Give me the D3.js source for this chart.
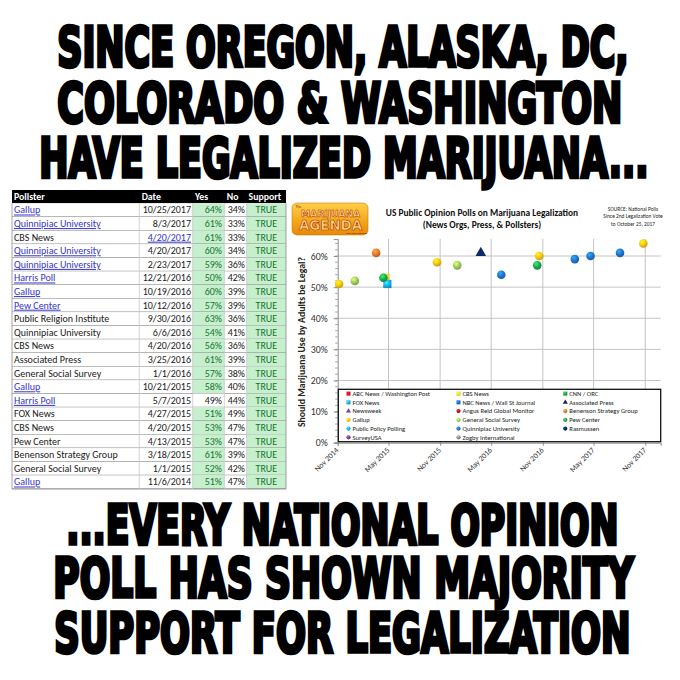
<!DOCTYPE html>
<html><head><meta charset="utf-8">
<script src="https://cdn.jsdelivr.net/npm/d3@7"></script>
<style>body{margin:0;background:#fff}svg{display:block}</style>
</head><body><svg id="c" width="680" height="680"></svg>
<script>
// ---------- data ----------
const headTop = ["SINCE OREGON, ALASKA, DC,", "COLORADO & WASHINGTON", "HAVE LEGALIZED MARIJUANA..."];
const headBottom = ["...EVERY NATIONAL OPINION", "POLL HAS SHOWN MAJORITY", "SUPPORT FOR LEGALIZATION"];

const tableColumns = ["Pollster", "Date", "Yes", "No", "Support"];
const pollsters = ["Gallup","Quinnipiac University","CBS News","Quinnipiac University","Quinnipiac University","Harris Poll","Gallup","Pew Center","Public Religion Institute","Quinnipiac University","CBS News","Associated Press","General Social Survey","Gallup","Harris Poll","FOX News","CBS News","Pew Center","Benenson Strategy Group","General Social Survey","Gallup"];
const pollDates = ["10/25/2017","8/3/2017","4/20/2017","4/20/2017","2/23/2017","12/21/2016","10/19/2016","10/12/2016","9/30/2016","6/6/2016","4/20/2016","3/25/2016","1/1/2016","10/21/2015","5/7/2015","4/27/2015","4/20/2015","4/13/2015","3/18/2015","1/1/2015","11/6/2014"];
const yesPct = [64,61,61,60,59,50,60,57,63,54,56,61,57,58,49,51,53,53,61,52,51];
const noPct  = [34,33,33,34,36,42,39,39,36,41,36,39,38,40,44,49,47,47,39,42,47];
const supportVals = ["TRUE","TRUE","TRUE","TRUE","TRUE","TRUE","TRUE","TRUE","TRUE","TRUE","TRUE","TRUE","TRUE","TRUE","TRUE","TRUE","TRUE","TRUE","TRUE","TRUE","TRUE"];
const pollsterLinked = [1,1,0,1,1,1,1,1,0,0,0,0,0,1,1,0,0,0,0,0,1];
const dateLinked     = [0,0,1,0,0,0,0,0,0,0,0,0,0,0,0,0,0,0,0,0,0];

const chartTitle = ["US Public Opinion Polls on Marijuana Legalization", "(News Orgs, Press, & Pollsters)"];
const sourceNote = ["SOURCE: National Polls", "Since 2nd Legalization Vote", "to October 25, 2017"];
const yAxisTitle = "Should Marijuana Use by Adults be Legal?";

const legendNames  = ["ABC News / Washington Post","CBS News","CNN / ORC","FOX News","NBC News / Wall St Journal","Associated Press","Newsweek","Angus Reid Global Monitor","Benenson Strategy Group","Gallup","General Social Survey","Pew Center","Public Policy Polling","Quinnipiac University","Rasmussen","SurveyUSA","Zogby International"];
const legendColors = ["#e8131b","#f3ec19","#1aa64a","#1ab2ea","#1f6fc0","#0d2a66","#7a3fa0","#c0151b","#e8782a","#f6c511","#9ccf5a","#1fa84f","#1ab6e6","#1f75cc","#0d2a5c","#7a3aa0","#8a8a8a"];
const legendShapes = ["square","square","square","square","square","triangle","triangle","circle","circle","circle","circle","circle","circle","circle","circle","circle","circle"];

const pointSeries = ["CBS News","FOX News","Associated Press","Benenson Strategy Group","Gallup","Gallup","Gallup","Gallup","General Social Survey","General Social Survey","Pew Center","Pew Center","Quinnipiac University","Quinnipiac University","Quinnipiac University","Quinnipiac University"];
const pointDates  = ["2015-04-20","2015-04-27","2016-03-25","2015-03-18","2014-11-06","2015-10-21","2016-10-19","2017-10-25","2015-01-01","2016-01-01","2015-04-13","2016-10-12","2016-06-06","2017-02-23","2017-04-20","2017-08-03"];
const pointValues = [0.53,0.51,0.61,0.61,0.51,0.58,0.60,0.64,0.52,0.57,0.53,0.57,0.54,0.59,0.60,0.61];

const yTicks = [0,0.1,0.2,0.3,0.4,0.5,0.6];
const xTickDates = ["2014-11-01","2015-05-01","2015-11-01","2016-05-01","2016-11-01","2017-05-01","2017-11-01"];
const xDomain = ["2014-11-01","2017-12-26"];
const yDomain = [0, 0.655];

// ---------- drawing ----------
const svg = d3.select("#c");
const parse = d3.timeParse("%Y-%m-%d");
const defs = svg.append("defs");

// Headlines: condensed heavy type, fitted to measured extents
const headFont = "'DejaVu Sans Condensed','DejaVu Sans',sans-serif";
function headline(lines, specs){
  lines.forEach((t,i)=>{
    const [x0, x1, base, cap] = specs[i];
    const g = svg.append("g").attr("transform",`translate(${x0},${base})`);
    const txt = g.append("text")
      .attr("font-family", headFont).attr("font-weight","bold")
      .attr("font-size", 50).text(t);
    const natural = txt.node().getComputedTextLength();
    const target = x1 - x0 - 2.6;
    const f = 50 * target / natural;
    const sy = cap / (0.729 * f);
    txt.attr("font-size", f).attr("x", 1.3)
      .attr("transform", `scale(1,${sy})`)
      .attr("fill","#000").attr("stroke","#000").attr("stroke-width", 2.6)
      .attr("stroke-linejoin","miter");
  });
}
headline(headTop, [[56,630,65.5,40],[56,624,121.5,40],[38,650,176.5,40]]);
headline(headBottom, [[65,620,543.5,40],[52,635,596.5,40],[53,632,651.5,40]]);

// ---------- Table ----------
const tFont = "Carlito, Lato, 'Open Sans', sans-serif";
const colEdges = [12, 139.3, 192.7, 224.3, 246.7, 286];
const headY0 = 190, headH = 13.3, rowH = 13.6;
const tbl = svg.append("g");
tbl.append("rect").attr("x",colEdges[0]).attr("y",headY0).attr("width",colEdges[5]-colEdges[0]).attr("height",headH).attr("fill","#000");
const headX = [14, 141.7, 195, 226.7, 248.5];
tbl.selectAll("text.h").data(tableColumns).join("text").attr("class","h")
  .attr("x",(d,i)=>headX[i]).attr("y",headY0+10)
  .attr("font-family",tFont).attr("font-weight","bold").attr("font-size",9.8)
  .attr("fill","#fff").text(d=>d);

const rowsY0 = headY0+headH;
const rows = tbl.selectAll("g.r").data(pollsters.map((p,i)=>i)).join("g").attr("class","r")
  .attr("transform", i=>`translate(0,${rowsY0+i*rowH})`);
rows.append("rect").attr("x",colEdges[0]).attr("width",colEdges[5]-colEdges[0]).attr("height",rowH).attr("fill","#fff");
rows.append("rect").attr("x",colEdges[2]).attr("width",colEdges[3]-colEdges[2]).attr("height",rowH)
  .attr("fill", i=> yesPct[i] >= 50 ? "#c6efce" : "#fff");
rows.append("rect").attr("x",colEdges[4]).attr("width",colEdges[5]-colEdges[4]).attr("height",rowH).attr("fill","#c6efce");
rows.append("line").attr("x1",colEdges[0]).attr("x2",colEdges[5]).attr("y1",rowH).attr("y2",rowH).attr("stroke","#7a7a7a").attr("stroke-width",1);
const linkColor = "#3434c8";
rows.append("text").attr("x",14).attr("y",10.2)
  .attr("font-family",tFont).attr("font-size",10)
  .attr("fill", i=>pollsterLinked[i] ? linkColor : "#1a1a1a")
  .attr("text-decoration", i=>pollsterLinked[i] ? "underline" : null)
  .text(i=>pollsters[i]);
rows.append("text").attr("x",191).attr("y",10.2).attr("text-anchor","end")
  .attr("font-family",tFont).attr("font-size",10)
  .attr("fill", i=>dateLinked[i] ? linkColor : "#1a1a1a")
  .attr("text-decoration", i=>dateLinked[i] ? "underline" : null)
  .text(i=>pollDates[i]);
rows.append("text").attr("x",222).attr("y",10.2).attr("text-anchor","end")
  .attr("font-family",tFont).attr("font-size",10)
  .attr("fill", i=> yesPct[i] >= 50 ? "#16752c" : "#1a1a1a")
  .text(i=>yesPct[i]+"%");
rows.append("text").attr("x",245).attr("y",10.2).attr("text-anchor","end")
  .attr("font-family",tFont).attr("font-size",10).attr("fill","#1a1a1a")
  .text(i=>noPct[i]+"%");
rows.append("text").attr("x",(colEdges[4]+colEdges[5])/2).attr("y",10.2).attr("text-anchor","middle")
  .attr("font-family",tFont).attr("font-size",10).attr("fill","#16752c")
  .text(i=>supportVals[i]);
const tableBottom = rowsY0 + pollsters.length*rowH;
colEdges.forEach((x,i)=>{
  tbl.append("line").attr("x1",x).attr("x2",x).attr("y1",rowsY0).attr("y2",tableBottom)
    .attr("stroke", (i===0||i===5) ? "#8a8a8a" : "#c8c8c8").attr("stroke-width",0.8);
});

// ---------- Chart ----------
const cFont = "Carlito, Lato, 'Open Sans', sans-serif";
const x = d3.scaleTime().domain(xDomain.map(parse)).range([337.7, 660.7]);
const y = d3.scaleLinear().domain(yDomain).range([442.7, 238.9]);
const chart = svg.append("g");

// logo
const lg = defs.append("linearGradient").attr("id","logoG").attr("x1",0).attr("y1",0).attr("x2",0).attr("y2",1);
lg.append("stop").attr("offset","0%").attr("stop-color","#ffd04a");
lg.append("stop").attr("offset","55%").attr("stop-color","#f4a81c");
lg.append("stop").attr("offset","100%").attr("stop-color","#e58a0a");
chart.append("rect").attr("x",292).attr("y",203).attr("width",76).attr("height",32).attr("rx",5)
  .attr("fill","url(#logoG)").attr("stroke","#d07a08").attr("stroke-width",0.6);
chart.append("text").attr("x",295.5).attr("y",207.6).attr("font-family",cFont).attr("font-size",4).attr("fill","#7a2a00").text("The");
chart.append("text").attr("x",301).attr("y",217).attr("textLength",59).attr("lengthAdjust","spacingAndGlyphs")
  .attr("font-family","'DejaVu Sans',sans-serif").attr("font-weight","bold").attr("font-size",9.5)
  .attr("fill","#ffd98a").attr("stroke","#b02a05").attr("stroke-width",0.5).text("MARIJUANA");
chart.append("text").attr("x",299).attr("y",229.5).attr("textLength",63).attr("lengthAdjust","spacingAndGlyphs")
  .attr("font-family","'DejaVu Sans',sans-serif").attr("font-weight","bold").attr("font-size",13.5)
  .attr("fill","#ffd98a").attr("stroke","#b02a05").attr("stroke-width",0.6).text("AGENDA");
chart.append("text").attr("x",346).attr("y",233.6).attr("font-family",cFont).attr("font-size",2.8).attr("fill","#6a2000").text("with Steve Bobbitt");

// titles
chart.selectAll("text.title").data(chartTitle).join("text").attr("class","title")
  .attr("x",482).attr("y",(d,i)=>215.5+i*12.5).attr("text-anchor","middle")
  .attr("font-family",cFont).attr("font-weight","bold").attr("font-size",9.4).attr("fill","#111").text(d=>d);
chart.selectAll("text.src").data(sourceNote).join("text").attr("class","src")
  .attr("x",633).attr("y",(d,i)=>210.5+i*7.6).attr("text-anchor","middle")
  .attr("font-family",cFont).attr("font-size",5.4).attr("fill","#222").text(d=>d);

// gridlines
const [px0, px1] = x.range();
const [py0, py1] = y.range();
chart.append("g").selectAll("line").data(yTicks.filter(d=>d>0)).join("line")
  .attr("x1",px0).attr("x2",px1).attr("y1",d=>y(d)).attr("y2",d=>y(d))
  .attr("stroke","#c4c4c4").attr("stroke-width",1);
chart.append("g").selectAll("line").data(xTickDates.map(parse).slice(1)).join("line")
  .attr("x1",d=>x(d)).attr("x2",d=>x(d)).attr("y1",py0).attr("y2",py1)
  .attr("stroke","#c4c4c4").attr("stroke-width",1);

// axes
const yAxisG = chart.append("g").attr("transform",`translate(${px0},0)`)
  .call(d3.axisLeft(y).tickValues(yTicks).tickFormat(d3.format(".0%")).tickSize(4).tickPadding(6));
yAxisG.select(".domain").attr("stroke","#8c8c8c");
yAxisG.selectAll(".tick line").attr("stroke","#8c8c8c");
yAxisG.selectAll(".tick text").attr("font-family",cFont).attr("font-size",9.8).attr("fill","#333");
const minor = d3.range(0, 0.655, 0.02);
chart.append("g").selectAll("line").data(minor).join("line")
  .attr("x1",px0-2.5).attr("x2",px0).attr("y1",d=>y(d)).attr("y2",d=>y(d))
  .attr("stroke","#8c8c8c").attr("stroke-width",0.8);

const xAxisG = chart.append("g").attr("transform",`translate(0,${py0})`)
  .call(d3.axisBottom(x).tickValues(xTickDates.map(parse)).tickFormat(d3.timeFormat("%b %Y")).tickSize(3).tickPadding(4));
xAxisG.select(".domain").attr("stroke","#8c8c8c");
xAxisG.selectAll(".tick line").attr("stroke","#8c8c8c");
xAxisG.selectAll(".tick text").attr("font-family",cFont).attr("font-size",7.8).attr("fill","#333")
  .attr("text-anchor","end").attr("x",0).attr("y",0).attr("dy","0.35em")
  .attr("transform","translate(-1,6) rotate(-45)");

chart.append("text").attr("transform",`translate(305,342) rotate(-90)`).attr("text-anchor","middle")
  .attr("font-family",cFont).attr("font-weight","bold").attr("font-size",9.8).attr("fill","#222").text(yAxisTitle);

// gradients for markers
legendNames.forEach((n,i)=>{
  const c = d3.color(legendColors[i]);
  const g = defs.append("radialGradient").attr("id","mg"+i).attr("cx","38%").attr("cy","32%").attr("r","70%");
  g.append("stop").attr("offset","0%").attr("stop-color", c.brighter(1.1).formatHex());
  g.append("stop").attr("offset","55%").attr("stop-color", c.formatHex());
  g.append("stop").attr("offset","100%").attr("stop-color", c.darker(0.7).formatHex());
});
function marker(sel, shape, idx, r){
  if(shape==="circle"){
    sel.append("circle").attr("r",r).attr("fill",`url(#mg${idx})`);
  } else if(shape==="square"){
    sel.append("rect").attr("x",-r*0.95).attr("y",-r*0.95).attr("width",r*1.9).attr("height",r*1.9).attr("fill",`url(#mg${idx})`);
  } else {
    sel.append("path").attr("d",d3.symbol(d3.symbolTriangle, r*r*2.6)()).attr("fill",legendColors[idx]);
  }
}

// points (drawn in series/legend order)
const ptIdx = d3.range(pointSeries.length).sort((a,b)=>legendNames.indexOf(pointSeries[a]) - legendNames.indexOf(pointSeries[b]));
ptIdx.forEach(i=>{
  const si = legendNames.indexOf(pointSeries[i]);
  const g = chart.append("g").attr("transform",`translate(${x(parse(pointDates[i]))},${y(pointValues[i])})`);
  marker(g, legendShapes[si], si, 4.3);
});

// legend
const lgX0 = 338.3, lgY0 = 389.3;
chart.append("rect").attr("x",lgX0).attr("y",lgY0).attr("width",660.7-lgX0).attr("height",441.7-lgY0)
  .attr("fill","#fff").attr("stroke","#111").attr("stroke-width",1.3);
const colX = [348.5, 458.5, 565.3];
legendNames.forEach((n,i)=>{
  const cx = colX[i%3], cy = 393.6 + Math.floor(i/3)*8.75;
  const g = chart.append("g").attr("transform",`translate(${cx},${cy})`);
  marker(g, legendShapes[i], i, 2.1);
  chart.append("text").attr("x",cx+4).attr("y",cy).attr("dy","0.35em")
    .attr("font-family",cFont).attr("font-size",6.6).attr("fill","#222").text(n);
});
</script></body></html>
